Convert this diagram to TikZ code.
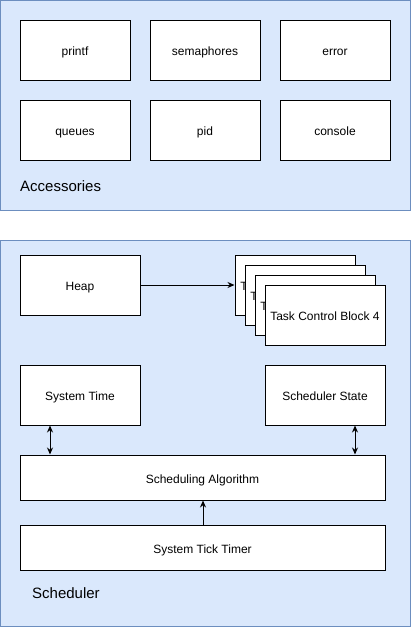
\documentclass[tikz,border=0pt]{standalone}
\usepackage{fontspec}
\setmainfont{Liberation Sans}
\usetikzlibrary{positioning}
\usetikzlibrary{arrows.meta}
\definecolor{groupfill}{HTML}{DAE8FC}
\definecolor{groupline}{HTML}{6C8EBF}
\tikzset{
    group/.style={draw=groupline, fill=groupfill, line width=1pt, inner sep=0pt},
    module/.style={draw=black, fill=white, line width=1pt, inner sep=0pt,
        text height=11pt, text depth=0pt,
        font=\fontsize{12pt}{14pt}\selectfont},
    grouplabel/.style={anchor=west, inner sep=0pt, font=\fontsize{15pt}{18pt}\selectfont},
    link/.style={line width=1pt, -{Stealth[length=7pt,width=6pt]}},
    duplex/.style={line width=1pt, {Stealth[length=7pt,width=6pt]}-{Stealth[length=7pt,width=6pt]}}
}
\newcommand{\module}[6]{% name, x1, y1, x2, y2, text
    \node[module, minimum width={(#4)-(#2)}, minimum height={(#5)-(#3)}]
        (#1) at ({((#2)+(#4))/2},{((#3)+(#5))/2}) {#6};}
\begin{document}
\begin{tikzpicture}[x=1pt, y=-1pt]
        \useasboundingbox (0,0) rectangle (411,627);
        % Accessories
        \node[group, minimum width=409.5, minimum height=209.5] (accessories) at (205.25,105.25) {};
        \module{printf}{20}{20}{130}{80}{printf}
        \module{semaphores}{150}{20}{260}{80}{semaphores}
        \module{error}{280}{20}{390}{80}{error}
        \module{queues}{20}{100}{130}{160}{queues}
        \module{pid}{150}{100}{260}{160}{pid}
        \module{console}{280}{100}{390}{160}{console}
        \node[grouplabel] (acclabel) at (20,186) {Accessories};
        % Scheduler
        \node[group, minimum width=409.5, minimum height=385.5] (scheduler) at (205.25,433.25) {};
        \module{heap}{20}{255}{140}{315}{Heap}
        \foreach \i in {1,...,4} {
            \module{tcb\i}{225+10*\i}{245+10*\i}{345+10*\i}{305+10*\i}{Task Control Block \i}
        }
        \module{systime}{20}{365}{140}{425}{System Time}
        \module{schedstate}{265}{365}{385}{425}{Scheduler State}
        \module{algorithm}{20}{455}{385}{500}{Scheduling Algorithm}
        \module{ticktimer}{20}{525}{385}{570}{System Tick Timer}
        \node[grouplabel] (schedlabel) at (32,593) {Scheduler};

        \draw[link] (heap.east) -- (tcb1.west);
        \draw[duplex] (systime.south -| 50,0) -- (algorithm.north -| 50,0);
        \draw[duplex] (schedstate.south -| 355,0) -- (algorithm.north -| 355,0);
        \draw[link] (ticktimer.north -| 203,0) -- (algorithm.south -| 203,0);

    \end{tikzpicture}
\end{document}
